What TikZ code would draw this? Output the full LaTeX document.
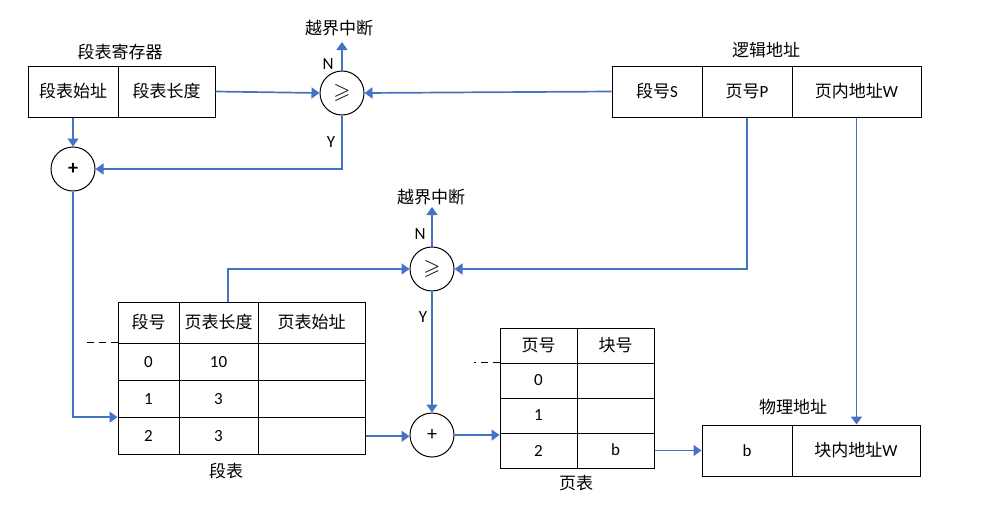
\documentclass[tikz,border=0pt]{standalone}
\usepackage{fontspec}
\usepackage{amssymb}
\usetikzlibrary{arrows.meta,positioning}
\setmainfont{Carlito}
\newfontfamily\cjk{Noto Sans CJK SC}
\definecolor{linkblue}{RGB}{68,114,196}

\begin{document}
\begin{tikzpicture}[
    x=1pt, y=-1pt,
    every node/.style={font=\fontsize{17}{20}\selectfont},
    cell/.style={draw, line width=1pt, inner sep=0pt, minimum height=51pt},
    unit/.style={draw, circle, line width=1pt, minimum size=44pt, inner sep=0pt},
    tag/.style={font=\fontsize{17}{20}\selectfont\cjk, inner sep=1pt},
    link/.style={draw=linkblue, line width=1.7pt, -{Triangle[length=8pt,width=11pt]}}
]
\useasboundingbox (0,0) rectangle (993,506);

% segment table register
\node[cell, minimum width=90pt] (sr1) at (73,91.5) {\cjk 段表始址};
\node[cell, minimum width=97pt] (sr2) at (166.5,91.5) {\cjk 段表长度};
\node[tag] at (120,52) {段表寄存器};

% logical address
\node[cell, minimum width=90pt] (la1) at (657,91.5) {{\cjk 段号}S};
\node[cell, minimum width=90pt] (la2) at (747,91.5) {{\cjk 页号}P};
\node[cell, minimum width=129pt] (la3) at (856.5,91.5) {{\cjk 页内地址}W};
\node[tag] at (766,50) {逻辑地址};

% comparators and adders
\node[unit, font=\fontsize{22}{24}\selectfont] (cmp1) at (342,93) {$\geqslant$};
\node[unit, font=\fontsize{20}{22}\selectfont\bfseries] (add1) at (73,169) {+};
\node[unit, font=\fontsize{22}{24}\selectfont] (cmp2) at (432,269) {$\geqslant$};
\node[unit, font=\fontsize{20}{22}\selectfont] (add2) at (432,435) {+};
\node[tag] at (339,28) {越界中断};
\node[tag] at (431,197) {越界中断};
\coordinate (cut1) at (342,42);
\coordinate (cut2) at (432,207);
\node at (328,64) {N};
\node at (331,142) {Y};
\node at (420,234) {N};
\node at (423,317) {Y};

% segment table
\node[cell, minimum width=61pt, minimum height=41pt] (st00) at (148.5,322.5) {\cjk 段号};
\node[cell, minimum width=79pt, minimum height=41pt] (st01) at (218.5,322.5) {\cjk 页表长度};
\node[cell, minimum width=107pt, minimum height=41pt] (st02) at (311.5,322.5) {\cjk 页表始址};
\foreach \r/\y/\a/\b in {1/361.7/0/10, 2/399/1/3, 3/436.3/2/3} {
    \node[cell, minimum width=61pt, minimum height=37.3pt] (st\r0) at (148.5,\y) {\a};
    \node[cell, minimum width=79pt, minimum height=37.3pt] (st\r1) at (218.5,\y) {\b};
    \node[cell, minimum width=107pt, minimum height=37.3pt] (st\r2) at (311.5,\y) {};
}
\node[tag] at (226,471) {段表};
\draw[line width=1pt, dash pattern=on 7pt off 5pt] (st10.north west) -- ++(-32,0);

% page table
\node[cell, minimum width=77pt, minimum height=35pt] (pt00) at (538.5,345.5) {\cjk 页号};
\node[cell, minimum width=77pt, minimum height=35pt] (pt01) at (615.5,345.5) {\cjk 块号};
\foreach \r/\y/\a/\b in {1/380.5/0/, 2/415.5/1/, 3/450.5/2/b} {
    \node[cell, minimum width=77pt, minimum height=35pt] (pt\r0) at (538.5,\y) {\a};
    \node[cell, minimum width=77pt, minimum height=35pt] (pt\r1) at (615.5,\y) {\raisebox{2pt}{\b}};
}
\node[tag] at (576,483) {页表};
\draw[line width=1pt, dash pattern=on 7pt off 5pt] (pt10.north west) -- ++(-26,0);

% physical address
\node[cell, minimum width=90pt] (pa1) at (747,450.5) {b};
\node[cell, minimum width=128pt] (pa2) at (856,450.5) {{\cjk 块内地址}W};
\node[tag] at (793,407) {物理地址};

% connectors
\draw[link] (sr2.east) -- (cmp1.west);
\draw[link] (la1.west) -- (cmp1.east);
\draw[link] (cmp1.north) -- (cut1);
\draw[link] (sr1.south) -- (add1.north);
\draw[link] (cmp1.south) |- (add1.east);
\draw[link] (add1.south) |- (st30.north west);
\draw[link] ([xshift=9.5pt]st01.north) |- (cmp2.west);
\draw[link] (la2.south) |- (cmp2.east);
\draw[link] (cmp2.north) -- (cut2);
\draw[link] (cmp2.south) -- (add2.north);
\draw[link] (st32.east) -- (st32.east -| add2.west);
\draw[link] (add2.east) -- (add2.east -| pt30.west);
\draw[link] (pt31.east) -- (pa1.west);
\draw[link] (la3.south) -- (la3.south |- pa2.north);
\end{tikzpicture}
\end{document}
